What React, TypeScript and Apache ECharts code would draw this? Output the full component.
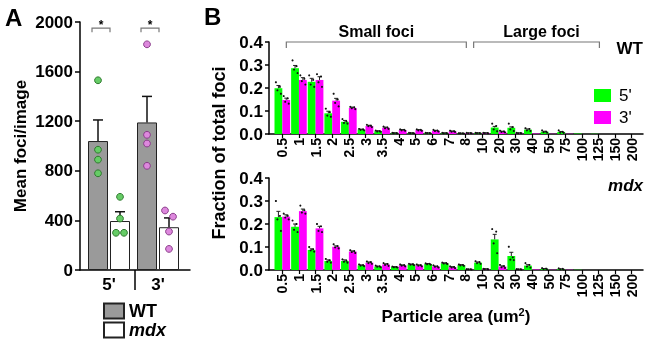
import React, { useEffect, useRef } from 'react';
import * as echarts from 'echarts';

// ---------- Panel A data ----------
const aCategories = ["5'", "3'"];
const aGroups = ['WT', 'mdx'];
const wtMeans = [1040, 1190];
const wtSem = [170, 210];
const mdxMeans = [395, 345];
const mdxSem = [75, 75];
const wtDots = [[1530, 970, 890, 780], [1820, 1090, 1020, 840]];
const mdxDots = [[590, 415, 300, 300], [480, 430, 310, 170]];
const sigLevel = 1950;
const sigMark = '*';
const aTicks = [0, 400, 800, 1200, 1600, 2000];

// ---------- Panel B data ----------
const sizeCategories = ['0.5', '1', '1.5', '2', '2.5', '3', '3.5', '4', '5', '6', '7', '8', '10', '20', '30', '40', '50', '75', '100', '125', '150', '200'];
const bTicks = [0, 0.1, 0.2, 0.3, 0.4];
const conditions = ["5'", "3'"];
const fociGroups = ['Small foci', 'Large foci'];
const fociRanges = [[0, 11], [12, 19]];

const wt5 = [0.199, 0.286, 0.227, 0.090, 0.053, 0.019, 0.012, 0.004, 0.004, 0.004, 0.004, 0.003, 0.004, 0.028, 0.027, 0.019, 0.010, 0.009, 0.002, 0.001, 0, 0];
const wt5Sem = [0.012, 0.012, 0.015, 0.009, 0.006, 0.002, 0.002, 0.001, 0.001, 0.001, 0.001, 0.001, 0.001, 0.005, 0.004, 0.003, 0.002, 0.002, 0, 0, 0, 0];
const wt3 = [0.148, 0.235, 0.235, 0.145, 0.113, 0.035, 0.027, 0.017, 0.017, 0.014, 0.011, 0.004, 0.004, 0.010, 0.004, 0.002, 0.001, 0.001, 0, 0, 0, 0];
const wt3Sem = [0.008, 0.010, 0.014, 0.010, 0.004, 0.003, 0.003, 0.002, 0.002, 0.002, 0.002, 0.001, 0.001, 0.002, 0.001, 0, 0, 0, 0, 0, 0, 0];
const mdx5 = [0.230, 0.188, 0.087, 0.039, 0.039, 0.020, 0.015, 0.013, 0.024, 0.026, 0.029, 0.021, 0.032, 0.133, 0.061, 0.019, 0.005, 0.004, 0.001, 0, 0, 0];
const mdx5Sem = [0.025, 0.012, 0.005, 0.005, 0.005, 0.002, 0.002, 0.001, 0.002, 0.002, 0.002, 0.002, 0.003, 0.022, 0.016, 0.004, 0.001, 0.001, 0, 0, 0, 0];
const mdx3 = [0.232, 0.256, 0.181, 0.101, 0.080, 0.032, 0.024, 0.020, 0.020, 0.015, 0.012, 0.003, 0.004, 0.015, 0.003, 0.002, 0.001, 0.001, 0, 0, 0, 0];
const mdx3Sem = [0.008, 0.009, 0.009, 0.004, 0.003, 0.003, 0.003, 0.002, 0.002, 0.002, 0.002, 0.001, 0.001, 0.003, 0.001, 0, 0, 0, 0, 0, 0, 0];

const wt5Dots = [[0.225, 0.205, 0.19, 0.175], [0.32, 0.295, 0.28, 0.265], [0.255, 0.235, 0.215, 0.205], [0.11, 0.095, 0.08, 0.075], [0.065, 0.055, 0.048, 0.045], [0.022, 0.02, 0.018, 0.016], [0.015, 0.012, 0.011, 0.01], [0.005, 0.004, 0.004, 0.003], [0.005, 0.004, 0.004, 0.003], [0.005, 0.004, 0.004, 0.003], [0.005, 0.004, 0.003, 0.003], [0.004, 0.003, 0.003, 0.002], [0.005, 0.004, 0.004, 0.003], [0.045, 0.035, 0.02, 0.012], [0.045, 0.03, 0.02, 0.013], [0.025, 0.022, 0.016, 0.013], [0.016, 0.01, 0.008, 0.006], [0.016, 0.009, 0.006, 0.005], [], [], [], []];
const wt3Dots = [[0.165, 0.155, 0.14, 0.132], [0.255, 0.24, 0.23, 0.215], [0.26, 0.25, 0.225, 0.205], [0.175, 0.15, 0.135, 0.12], [0.118, 0.116, 0.112, 0.108], [0.04, 0.036, 0.034, 0.03], [0.032, 0.028, 0.025, 0.022], [0.02, 0.018, 0.016, 0.014], [0.02, 0.018, 0.016, 0.014], [0.018, 0.015, 0.013, 0.011], [0.014, 0.012, 0.01, 0.009], [0.005, 0.004, 0.003, 0.003], [0.005, 0.004, 0.004, 0.003], [0.014, 0.011, 0.009, 0.007], [0.005, 0.004, 0.003, 0.003], [], [], [], [], [], [], []];
const mdx5Dots = [[0.30, 0.235, 0.22, 0.17], [0.215, 0.2, 0.175, 0.165], [0.1, 0.09, 0.085, 0.08], [0.048, 0.042, 0.036, 0.032], [0.046, 0.04, 0.036, 0.032], [0.024, 0.021, 0.019, 0.017], [0.019, 0.016, 0.014, 0.012], [0.015, 0.013, 0.012, 0.011], [0.027, 0.025, 0.023, 0.021], [0.029, 0.027, 0.025, 0.023], [0.032, 0.03, 0.028, 0.026], [0.024, 0.022, 0.02, 0.018], [0.038, 0.034, 0.03, 0.027], [0.178, 0.167, 0.116, 0.073], [0.101, 0.055, 0.045, 0.043], [0.03, 0.022, 0.015, 0.01], [0.008, 0.006, 0.004, 0.003], [0.007, 0.005, 0.003, 0.002], [], [], [], []];
const mdx3Dots = [[0.245, 0.235, 0.228, 0.22], [0.28, 0.26, 0.25, 0.245], [0.2, 0.19, 0.17, 0.165], [0.112, 0.104, 0.098, 0.094], [0.086, 0.082, 0.078, 0.074], [0.037, 0.034, 0.03, 0.027], [0.03, 0.026, 0.022, 0.018], [0.024, 0.021, 0.019, 0.016], [0.024, 0.021, 0.019, 0.016], [0.02, 0.016, 0.014, 0.011], [0.016, 0.013, 0.011, 0.008], [0.004, 0.003, 0.003, 0.002], [0.005, 0.004, 0.004, 0.003], [0.022, 0.017, 0.012, 0.009], [0.004, 0.003, 0.003, 0.002], [], [], [], [], [], [], []];

// ---------- styles ----------
const FONT = "'Liberation Sans', Arial, Helvetica, sans-serif";
const GREEN = '#00ff00';
const MAGENTA = '#ff00ff';
const AXIS = { color: '#000', width: 1.5 };
const A_BAR_OFFSET = 11;
const DOT_JITTER = [-2.5, 1.5, -1, 2.5];

function spread(vals: number[]) {
  const off = vals.map(() => 0);
  for (let i = 0; i < vals.length - 1; i++) {
    if (Math.abs(vals[i] - vals[i + 1]) < 60 && off[i] === 0) {
      off[i] = -4;
      off[i + 1] = 4;
    }
  }
  return off;
}

function txtStyle(text: string, font: string, align: string, valign: string, fill = '#000') {
  return { text, font, fill, align, verticalAlign: valign, textAlign: align, textVerticalAlign: valign };
}

function bPanel(xi: number, yi: number, v5: number[], s5: number[], v3: number[], s3: number[], d5: number[][], d3: number[][]) {
  const out: any[] = [];
  const pairs: [string, number[], number[], number[][], number][] = [
    [conditions[0], v5, s5, d5, -1],
    [conditions[1], v3, s3, d3, 1],
  ];
  pairs.forEach(([name, vals]) => {
    out.push({
      type: 'bar', name, xAxisIndex: xi, yAxisIndex: yi, data: vals,
      barGap: '0%', barCategoryGap: '6%',
      itemStyle: { color: name === conditions[0] ? GREEN : MAGENTA },
    });
  });
  pairs.forEach(([, vals, sems, dots, side]) => {
    out.push({
      type: 'custom', xAxisIndex: xi, yAxisIndex: yi, z: 3,
      data: vals.map((v, i) => [i, v, sems[i]]),
      renderItem: (p: any, api: any) => {
        const s = api.value(2);
        if (!(s > 0)) return { type: 'group', children: [] };
        const i = api.value(0), m = api.value(1);
        const band = api.size([1, 0])[0];
        const a = api.coord([i, m]);
        const b = api.coord([i, m + s]);
        const x = a[0] + side * band * 0.235;
        return {
          type: 'group', children: [
            { type: 'line', shape: { x1: x, y1: a[1], x2: x, y2: b[1] }, style: { stroke: '#222', lineWidth: 1 } },
            { type: 'line', shape: { x1: x - 2, y1: b[1], x2: x + 2, y2: b[1] }, style: { stroke: '#222', lineWidth: 1 } },
          ],
        };
      },
    });
    const dd: number[][] = [];
    dots.forEach((arr, i) => arr.forEach((v, k) => dd.push([i, v, k])));
    out.push({
      type: 'custom', xAxisIndex: xi, yAxisIndex: yi, z: 4,
      data: dd,
      renderItem: (p: any, api: any) => {
        const i = api.value(0), v = api.value(1), k = api.value(2);
        const band = api.size([1, 0])[0];
        const c = api.coord([i, v]);
        const x = c[0] + side * band * 0.235 + DOT_JITTER[k % 4];
        return { type: 'circle', shape: { cx: x, cy: c[1], r: 1.05 }, style: { fill: '#111' } };
      },
    });
  });
  return out;
}

function valueAxisLine(grid: number, extra: any = {}) {
  return {
    gridIndex: grid, type: 'value', min: 0, max: 1,
    axisLine: { show: true, onZero: false, lineStyle: AXIS },
    axisTick: { show: false }, axisLabel: { show: false }, splitLine: { show: false },
    ...extra,
  };
}

function bCatAxis(grid: number) {
  return {
    gridIndex: grid, type: 'category', data: sizeCategories,
    axisLine: { show: false },
    axisTick: { show: true, alignWithLabel: true, interval: 0, length: 4, lineStyle: { color: '#000', width: 1.2 } },
    axisLabel: { rotate: 90, interval: 0, fontSize: 14, fontWeight: 'bold', color: '#000', margin: 4, fontFamily: FONT },
  };
}

function bValAxis(grid: number) {
  return {
    gridIndex: grid, type: 'value', min: 0, max: 0.4, interval: 0.1,
    axisLine: { show: true, onZero: false, lineStyle: AXIS },
    axisTick: { show: true, length: 4, lineStyle: AXIS },
    axisLabel: { fontSize: 17, fontWeight: 'bold', color: '#000', margin: 6, fontFamily: FONT, formatter: (v: number) => v.toFixed(1), customValues: bTicks },
    splitLine: { show: false },
  };
}

function aLegend(idx: number, top: number) {
  const item: any = { name: aGroups[idx] };
  if (idx === 1) item.textStyle = { fontStyle: 'italic' };
  return {
    data: [item],
    orient: 'vertical', left: 103, top, itemWidth: 20, itemHeight: 15,
    selectedMode: false, padding: 0, icon: 'rect',
    textStyle: { fontSize: 18, lineHeight: 17, fontWeight: 'bold', color: '#000', fontFamily: FONT },
  };
}

export default function App() {
  const ref = useRef<HTMLDivElement>(null);
  useEffect(() => {
    const chart = echarts.init(ref.current!, null, { renderer: 'svg' });
    const grids = [
      { left: 80, top: 22, width: 110, height: 248 },
      { left: 84.5, top: 22, width: 98, height: 248 },
      { left: 269, top: 42, width: 374, height: 92 },
      { left: 274, top: 42, width: 366, height: 92 },
      { left: 269, top: 178, width: 374, height: 92 },
      { left: 274, top: 178, width: 366, height: 92 },
    ].map((g) => ({ ...g, containLabel: false, outerBoundsMode: 'none' }));

    const aErr: number[][] = [];
    wtMeans.forEach((m, i) => aErr.push([i, 0, m, wtSem[i]]));
    mdxMeans.forEach((m, i) => aErr.push([i, 1, m, mdxSem[i]]));
    const aDots: number[][] = [];
    wtDots.forEach((arr, i) => { const o = spread(arr); arr.forEach((v, k) => aDots.push([i, 0, v, o[k]])); });
    mdxDots.forEach((arr, i) => { const o = spread(arr); arr.forEach((v, k) => aDots.push([i, 1, v, o[k]])); });

    const option: any = {
      animation: false,
      textStyle: { fontFamily: FONT },
      grid: grids,
      xAxis: [
        valueAxisLine(0, { min: 0, max: 2, axisTick: { show: true, customValues: [1], length: 20, lineStyle: AXIS } }),
        {
          gridIndex: 1, type: 'category', data: aCategories,
          axisLine: { show: false }, axisTick: { show: false },
          axisLabel: { fontSize: 17, fontWeight: 'bold', color: '#000', margin: 6, fontFamily: FONT },
        },
        valueAxisLine(2),
        bCatAxis(3),
        valueAxisLine(4, {
          name: 'Particle area (um{sup|2})', nameLocation: 'middle', nameGap: 36, nameMoveOverlap: false,
          nameTextStyle: {
            fontSize: 17, fontWeight: 'bold', color: '#000', fontFamily: FONT, lineHeight: 20,
            rich: { sup: { fontSize: 11, fontWeight: 'bold', color: '#000', fontFamily: FONT, lineHeight: 11, verticalAlign: 'top' } },
          },
        }),
        bCatAxis(5),
      ],
      yAxis: [
        {
          gridIndex: 0, type: 'value', min: 0, max: 2000, interval: 400,
          axisLine: { show: true, onZero: false, lineStyle: AXIS },
          axisTick: { show: true, length: 5, lineStyle: AXIS },
          axisLabel: { fontSize: 17, fontWeight: 'bold', color: '#000', margin: 7, fontFamily: FONT, customValues: aTicks, formatter: (v: number) => String(v) },
          splitLine: { show: false },
          name: 'Mean foci/image', nameLocation: 'middle', nameGap: 51, nameMoveOverlap: false,
          nameTextStyle: { fontSize: 17, fontWeight: 'bold', color: '#000', fontFamily: FONT },
        },
        { gridIndex: 1, type: 'value', min: 0, max: 2000, show: false },
        bValAxis(2),
        { gridIndex: 3, type: 'value', min: 0, max: 0.4, show: false },
        bValAxis(4),
        { gridIndex: 5, type: 'value', min: 0, max: 0.4, show: false },
      ],
      legend: [
        aLegend(0, 302),
        aLegend(1, 321),
        {
          data: conditions,
          orient: 'vertical', left: 594, top: 87, itemWidth: 17, itemHeight: 13, itemGap: 5,
          selectedMode: false, padding: 0, icon: 'rect',
          textStyle: { fontSize: 17, color: '#000', fontFamily: FONT, padding: [0, 0, 0, 3] },
        },
      ],
      graphic: [
        { type: 'text', x: 5, y: 17, style: txtStyle('A', `bold 24px ${FONT}`, 'left', 'middle') },
        { type: 'text', x: 204, y: 16, style: txtStyle('B', `bold 24px ${FONT}`, 'left', 'middle') },
        { type: 'text', x: 643, y: 48, style: txtStyle('WT', `bold 17px ${FONT}`, 'right', 'middle') },
        { type: 'text', x: 643, y: 185, style: txtStyle('mdx', `italic bold 17px ${FONT}`, 'right', 'middle') },
        { type: 'text', x: 219, y: 153, rotation: Math.PI / 2, style: txtStyle('Fraction of total foci', `bold 18px ${FONT}`, 'center', 'middle') },
      ],
      series: [
        {
          type: 'bar', name: aGroups[0], xAxisIndex: 1, yAxisIndex: 1, data: wtMeans, barWidth: 20, barGap: '10%',
          itemStyle: { color: '#9a9a9a', borderColor: '#222', borderWidth: 1 },
        },
        {
          type: 'bar', name: aGroups[1], xAxisIndex: 1, yAxisIndex: 1, data: mdxMeans, barWidth: 20, barGap: '10%',
          itemStyle: { color: '#ffffff', borderColor: '#222', borderWidth: 1 },
        },
        {
          type: 'custom', xAxisIndex: 1, yAxisIndex: 1, z: 3, data: aErr,
          renderItem: (p: any, api: any) => {
            const i = api.value(0), g = api.value(1), m = api.value(2), s = api.value(3);
            const a = api.coord([i, m]);
            const b = api.coord([i, m + s]);
            const x = a[0] + (g === 0 ? -A_BAR_OFFSET : A_BAR_OFFSET);
            return {
              type: 'group', children: [
                { type: 'line', shape: { x1: x, y1: a[1], x2: x, y2: b[1] }, style: { stroke: '#111', lineWidth: 1.5 } },
                { type: 'line', shape: { x1: x - 5, y1: b[1], x2: x + 5, y2: b[1] }, style: { stroke: '#111', lineWidth: 1.5 } },
              ],
            };
          },
        },
        {
          type: 'custom', xAxisIndex: 1, yAxisIndex: 1, z: 4, data: aDots,
          renderItem: (p: any, api: any) => {
            const i = api.value(0), g = api.value(1), v = api.value(2), o = api.value(3);
            const c = api.coord([i, v]);
            const x = c[0] + (g === 0 ? -A_BAR_OFFSET : A_BAR_OFFSET) + o;
            const green = i === 0;
            return {
              type: 'circle', shape: { cx: x, cy: c[1], r: 3.4 },
              style: { fill: green ? '#66cc66' : '#dd88dd', stroke: green ? '#2f7a2f' : '#8a3d8a', lineWidth: 1 },
            };
          },
        },
        {
          type: 'custom', xAxisIndex: 1, yAxisIndex: 1, z: 4, data: aCategories.map((_, i) => [i, sigLevel]),
          renderItem: (p: any, api: any) => {
            const c = api.coord([api.value(0), api.value(1)]);
            const x1 = c[0] - A_BAR_OFFSET - 6, x2 = c[0] + 1, y = c[1];
            return {
              type: 'group', children: [
                { type: 'polyline', shape: { points: [[x1, y + 4], [x1, y], [x2, y], [x2, y + 4]] }, style: { stroke: '#777', lineWidth: 1.2, fill: 'none' } },
                { type: 'text', x: (x1 + x2) / 2, y: y - 3, style: txtStyle(sigMark, `bold 12px ${FONT}`, 'center', 'middle') },
              ],
            };
          },
        },
        ...bPanel(3, 3, wt5, wt5Sem, wt3, wt3Sem, wt5Dots, wt3Dots),
        ...bPanel(5, 5, mdx5, mdx5Sem, mdx3, mdx3Sem, mdx5Dots, mdx3Dots),
        {
          type: 'custom', xAxisIndex: 3, yAxisIndex: 3, z: 5,
          data: fociRanges.map(([s, e]) => [s, e, 0.4]),
          renderItem: (p: any, api: any) => {
            const s = api.value(0), e = api.value(1), v = api.value(2);
            const band = api.size([1, 0])[0];
            const a = api.coord([s, v]);
            const b = api.coord([e, v]);
            const x1 = s === 0 ? a[0] + 4 : a[0] - band / 2;
            const x2 = b[0] + 1;
            const y = a[1];
            return {
              type: 'group', children: [
                { type: 'polyline', shape: { points: [[x1, y + 6], [x1, y], [x2, y], [x2, y + 6]] }, style: { stroke: '#777', lineWidth: 1.2, fill: 'none' } },
                { type: 'text', x: (x1 + x2) / 2 + (s === 0 ? 0 : 5), y: y - 11, style: txtStyle(fociGroups[p.dataIndex], `bold 16px ${FONT}`, 'center', 'middle') },
              ],
            };
          },
        },
      ],
    };
    chart.setOption(option);
    return () => chart.dispose();
  }, []);
  return <div ref={ref} style={{ position: 'fixed', left: 0, top: 0, width: 665, height: 340 }} />;
}
